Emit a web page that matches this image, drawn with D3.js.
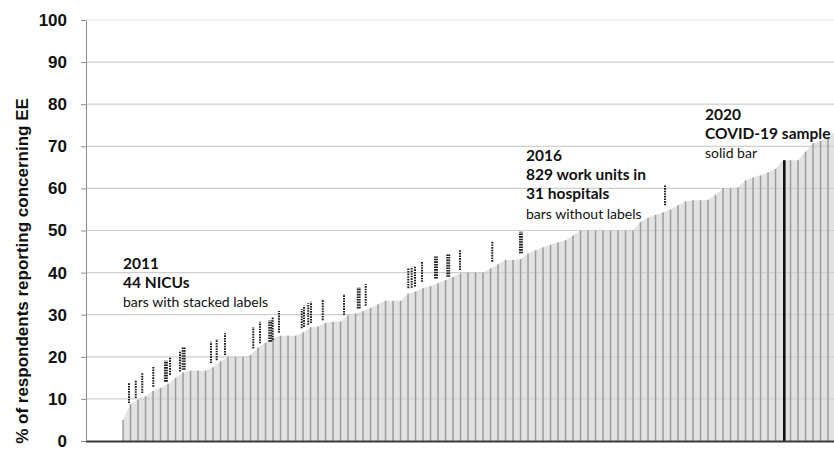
<!DOCTYPE html>
<html><head><meta charset="utf-8">
<script src="https://cdn.jsdelivr.net/npm/d3@7"></script>
<style>body{margin:0;background:#fff}svg{display:block}</style>
</head><body>
<svg id="chart" width="834" height="449"></svg>
<script>
// ---- data ----
const yTickValues = [0,10,20,30,40,50,60,70,80,90,100];
// sorted unit values (% reporting concerning EE), one per visible column
const unitValues = [5,8.8,9.8,10.6,11.9,12.6,13.6,15,16.3,16.7,16.7,16.7,17.5,18.9,20,20,20,20.4,22.2,23.3,24.4,25,25,25,25.8,27,27.2,28,28.3,28.4,29.8,30.3,30.8,31.6,32.5,33.3,33.3,33.3,35,35.5,36.3,36.8,37.5,38.2,39,39.8,40,40,40,41,42,43,43,43.2,44.5,45.3,46,46.6,47.2,47.7,48.8,50,50,50,50,50,50,50,50,52,53,53.7,54.3,55,56,56.9,57.2,57.2,57.3,58.5,60,60,60.2,61.9,62.6,63.1,63.8,64.6,66.7,66.7,66.7,68.7,70.7,71.3,72,73.5];
const covidIndex = 88;
const covidValue = 66.7;
// 2011 NICU stacked labels: position (rank), bottom and top value, number of stacked columns
const labelRank = [0.8,1.7,2.57,4.04,5.6,6.27,7.6,7.96,11.73,12.49,13.6,17.37,18.27,19.5,19.96,20.8,23.83,24.13,24.7,25.07,26.63,29.47,31.3,32.36,38.04,38.49,38.93,39.87,41.6,43.24,44.93,49.24,52.93,72.27];
const labelLow  = [9.0,10.2,11.4,12.9,14.1,15.7,16.5,16.9,18.5,19.2,20.4,22,23.2,23.6,24,25.7,26.8,27.1,27.6,28,28.7,29.9,31.5,32.1,36.3,36.4,36.7,37.8,38.6,39,40.6,42.6,44.6,56];
const labelHigh = [13.8,14.5,16.2,17.6,19.1,19.9,21.2,22.4,23.6,24.2,25.6,27.1,28.3,28.7,29.5,30.9,31.3,32.1,32.7,33.1,33.7,34.9,36.5,37.3,41.2,41.4,41.6,42.6,43.8,44.3,45.4,47.5,49.7,60.8];
const labelStack = [1,1,1,1,2,1,1,2,1,1,1,1,1,2,1,1,1,1,1,1,1,1,2,1,1,1,1,1,2,2,1,1,2,1];
const note2011 = ["2011","44 NICUs","bars with stacked labels"];
const note2016 = ["2016","829 work units in","31 hospitals","bars without labels"];
const note2020 = ["2020","COVID-19 sample","solid bar"];
const yTitle = "% of respondents reporting concerning EE";

// ---- layout ----
const svg = d3.select("#chart");
const axisX = 86, rightX = 834;
const y = d3.scaleLinear().domain([0,100]).range([441,20]);
const x = d3.scaleLinear().domain([0, unitValues.length-1]).range([123, 835.5]);

// light fill made of the fine unit bars
const area = d3.area().x((d,i)=>x(i)).y0(y(0)).y1(d=>y(d)).curve(d3.curveLinear);
svg.append("path").datum(unitValues).attr("d", area).attr("fill","#e2e2e2");

// gridlines
svg.append("g").selectAll("line").data(yTickValues.filter(d=>d>0)).join("line")
  .attr("x1", axisX).attr("x2", rightX)
  .attr("y1", d=>y(d)).attr("y2", d=>y(d))
  .attr("stroke", d=> d===100 ? "#e6e6e6" : "#cfcfcf").attr("stroke-width",1.2);

// darker column lines
svg.append("g").selectAll("rect").data(unitValues.map((v,i)=>({v,i})).filter(d=>d.i!==covidIndex)).join("rect")
  .attr("x", d=>x(d.i)-0.7).attr("width",1.5)
  .attr("y", d=>y(d.v)).attr("height", d=>y(0)-y(d.v))
  .attr("fill","#9c9c9c");

// COVID solid bar
svg.append("rect").attr("x", x(covidIndex)).attr("width",2.6)
  .attr("y", y(covidValue)).attr("height", y(0)-y(covidValue)).attr("fill","#111");

// stacked labels (dashed)
const lg = svg.append("g");
labelRank.forEach((r,i)=>{
  for(let c=0;c<labelStack[i];c++){
    lg.append("line")
      .attr("x1", x(r)+c*1.9).attr("x2", x(r)+c*1.9)
      .attr("y1", y(labelLow[i])).attr("y2", y(labelHigh[i]))
      .attr("stroke","#1c1c1c").attr("stroke-width",2)
      .attr("stroke-dasharray","1.6,1");
  }
});

// baseline
svg.append("line").attr("x1",axisX).attr("x2",rightX).attr("y1",y(0)+0.5).attr("y2",y(0)+0.5)
  .attr("stroke","#3a3a3a").attr("stroke-width",2);

// y axis
const ax = svg.append("g").attr("transform",`translate(${axisX},0)`)
  .call(d3.axisLeft(y).tickValues(yTickValues).tickSize(5).tickSizeOuter(0).tickPadding(14));
ax.select(".domain").attr("stroke","#8a8a8a");
ax.selectAll(".tick line").attr("stroke","#8a8a8a");
ax.selectAll(".tick text").attr("font-family","'Liberation Sans', Arial, sans-serif")
  .attr("font-weight","bold").attr("font-size",17).attr("fill","#111");

// y title
svg.append("text").attr("transform","translate(28,271) rotate(-90)")
  .attr("text-anchor","middle").attr("font-family","'Liberation Sans', Arial, sans-serif")
  .attr("font-weight","bold").attr("font-size",17).attr("fill","#111").text(yTitle);

// annotations
function note(lines, boldCount, x0, y0, step){
  const t = svg.append("text").attr("font-family","Lato, 'Open Sans', sans-serif").attr("fill","#111");
  lines.forEach((s,i)=>{
    t.append("tspan").attr("x",x0).attr("y",y0+i*step)
      .attr("font-weight", i<boldCount ? "bold" : "normal")
      .attr("font-size", i<boldCount ? 15.5 : 14).text(s);
  });
}
note(note2011, 2, 123, 269, 19);
note(note2016, 3, 526, 161, 19.2);
note(note2020, 2, 705, 119.5, 19);
</script>
</body></html>
